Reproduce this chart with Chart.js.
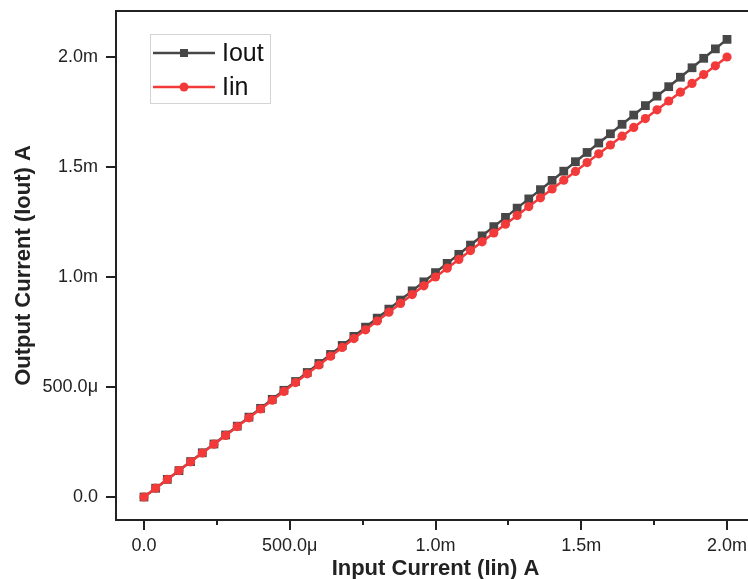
<!DOCTYPE html>
<html lang="en">
<head>
    <meta charset="UTF-8">
    <title>Iout vs Iin</title>
    <script src="https://cdn.jsdelivr.net/npm/chart.js"></script>
    <style>
        html, body { margin: 0; padding: 0; background: #fff; overflow: hidden; }
        #wrap { width: 748px; height: 579px; overflow: hidden; }
    </style>
</head>
<body>

<div id="wrap">
    <canvas id="chart" width="770" height="579"></canvas>
</div>

<script>
    // values in mA
    const iin = [0, 0.04, 0.08, 0.12, 0.16, 0.20, 0.24, 0.28, 0.32, 0.36, 0.40, 0.44, 0.48, 0.52, 0.56, 0.60, 0.64,
        0.68, 0.72, 0.76, 0.80, 0.84, 0.88, 0.92, 0.96, 1.00, 1.04, 1.08, 1.12, 1.16, 1.20, 1.24, 1.28, 1.32, 1.36,
        1.40, 1.44, 1.48, 1.52, 1.56, 1.60, 1.64, 1.68, 1.72, 1.76, 1.80, 1.84, 1.88, 1.92, 1.96, 2.00];
    const iout = [0, 0.040, 0.080, 0.120, 0.161, 0.201, 0.241, 0.282, 0.322, 0.363, 0.403, 0.444, 0.485, 0.525, 0.566,
        0.607, 0.648, 0.689, 0.730, 0.772, 0.813, 0.854, 0.895, 0.937, 0.978, 1.020, 1.062, 1.103, 1.145, 1.187,
        1.229, 1.271, 1.313, 1.355, 1.397, 1.439, 1.481, 1.524, 1.566, 1.609, 1.651, 1.694, 1.736, 1.779, 1.822,
        1.865, 1.908, 1.951, 1.994, 2.037, 2.080];

    const xTicks = [0, 0.5, 1.0, 1.5, 2.0];
    const xTickLabels = ['0.0', '500.0\u03bc', '1.0m', '1.5m', '2.0m'];
    const xMinorTicks = [0.25, 0.75, 1.25, 1.75];
    const yTicks = [0, 0.5, 1.0, 1.5, 2.0];
    const yTickLabels = ['0.0', '500.0\u03bc', '1.0m', '1.5m', '2.0m'];

    const seriesNames = ['Iin', 'Iout'];
    const colIout = '#474747';
    const colIin = '#f23a3a';
    const ink = '#222';

    function noPad(s) {
        s.paddingTop = 0; s.paddingBottom = 0;
        s.paddingLeft = 0; s.paddingRight = 0;
    }

    // frame, tick marks and the boxed legend
    const frame = {
        id: 'frame',
        afterDatasetsDraw(chart) {
            const ctx = chart.ctx;
            const a = chart.chartArea;
            const xs = chart.scales.x, ys = chart.scales.y;
            ctx.save();
            ctx.strokeStyle = ink;
            ctx.lineWidth = 2;
            ctx.strokeRect(a.left, a.top, a.right - a.left, a.bottom - a.top);

            ctx.beginPath();
            xTicks.forEach(v => {
                const p = Math.round(xs.getPixelForValue(v));
                ctx.moveTo(p, a.bottom); ctx.lineTo(p, a.bottom + 10);
            });
            xMinorTicks.forEach(v => {
                const p = Math.round(xs.getPixelForValue(v));
                ctx.moveTo(p, a.bottom); ctx.lineTo(p, a.bottom + 5);
            });
            yTicks.forEach(v => {
                const p = Math.round(ys.getPixelForValue(v));
                ctx.moveTo(a.left, p); ctx.lineTo(a.left - 10, p);
            });
            ctx.stroke();

            // legend
            const lx = 150, ly = 34, lw = 120, lh = 69;
            ctx.fillStyle = '#fff';
            ctx.fillRect(lx, ly, lw, lh);
            ctx.strokeStyle = '#d4d4d4';
            ctx.lineWidth = 1;
            ctx.strokeRect(lx + 0.5, ly + 0.5, lw, lh);

            const rows = [
                { ds: chart.data.datasets[1], y: 53 },
                { ds: chart.data.datasets[0], y: 87 }
            ];
            ctx.font = '25px "Liberation Sans", Arial, sans-serif';
            ctx.textBaseline = 'middle';
            rows.forEach(r => {
                ctx.strokeStyle = r.ds.borderColor;
                ctx.fillStyle = r.ds.borderColor;
                ctx.lineWidth = 2.5;
                ctx.beginPath();
                ctx.moveTo(153, r.y); ctx.lineTo(215, r.y);
                ctx.stroke();
                if (r.ds.pointStyle === 'rect') {
                    ctx.fillRect(180, r.y - 4, 8, 8);
                } else {
                    ctx.beginPath();
                    ctx.arc(184, r.y, 4.5, 0, Math.PI * 2);
                    ctx.fill();
                }
                ctx.fillStyle = '#111';
                ctx.fillText(r.ds.label, 222, r.y + 1);
            });
            ctx.restore();
        }
    };

    new Chart(document.getElementById('chart'), {
        type: 'line',
        data: {
            datasets: [
                {
                    label: seriesNames[0],
                    data: iin.map((v, i) => ({ x: v, y: iin[i] })),
                    borderColor: colIin,
                    backgroundColor: colIin,
                    borderWidth: 2.5,
                    pointStyle: 'circle',
                    pointRadius: 4.6,
                    pointBorderWidth: 0,
                    order: 0
                },
                {
                    label: seriesNames[1],
                    data: iin.map((v, i) => ({ x: v, y: iout[i] })),
                    borderColor: colIout,
                    backgroundColor: colIout,
                    borderWidth: 2.5,
                    pointStyle: 'rect',
                    pointRadius: 6.2,
                    pointBorderWidth: 0,
                    order: 1
                }
            ]
        },
        options: {
            responsive: false,
            animation: false,
            devicePixelRatio: 1,
            layout: { padding: { left: 0, top: 11, right: 15, bottom: 0 } },
            plugins: { legend: { display: false }, tooltip: { enabled: false } },
            scales: {
                x: {
                    type: 'linear',
                    min: -0.096,
                    max: 2.096,
                    afterBuildTicks: s => { s.ticks = xTicks.map(v => ({ value: v })); },
                    afterFit: s => { s.height = 59; noPad(s); },
                    grid: { display: false, drawTicks: false },
                    border: { display: false },
                    ticks: {
                        padding: 15,
                        maxRotation: 0,
                        color: ink,
                        font: { family: '"Liberation Sans", Arial, sans-serif', size: 18 },
                        callback: v => xTickLabels[xTicks.indexOf(v)]
                    },
                    title: {
                        display: true,
                        text: 'Input Current (Iin) A',
                        color: ink,
                        padding: { top: 0, bottom: -3 },
                        font: { family: '"Liberation Sans", Arial, sans-serif', size: 22, weight: 'bold' }
                    }
                },
                y: {
                    type: 'linear',
                    min: -0.1045,
                    max: 2.209,
                    afterBuildTicks: s => { s.ticks = yTicks.map(v => ({ value: v })); },
                    afterFit: s => { s.width = 116; noPad(s); },
                    grid: { display: false, drawTicks: false },
                    border: { display: false },
                    ticks: {
                        padding: 18,
                        color: ink,
                        font: { family: '"Liberation Sans", Arial, sans-serif', size: 18 },
                        callback: v => yTickLabels[yTicks.indexOf(v)]
                    },
                    title: {
                        display: true,
                        text: 'Output Current (Iout) A',
                        color: ink,
                        padding: { top: 11, bottom: 0 },
                        font: { family: '"Liberation Sans", Arial, sans-serif', size: 22, weight: 'bold' }
                    }
                }
            }
        },
        plugins: [frame]
    });
</script>

</body>
</html>
